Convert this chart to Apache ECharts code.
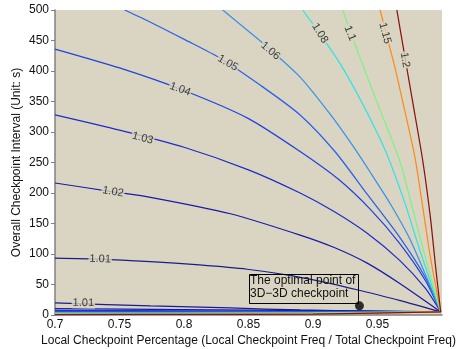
<!DOCTYPE html>
<html>
<head>
<meta charset="utf-8">
<script src="https://cdn.jsdelivr.net/npm/echarts@6/dist/echarts.min.js"></script>
<style>
html,body{margin:0;padding:0;background:#fff;}
#chart{width:457px;height:349px;}
</style>
</head>
<body>
<div id="chart"></div>
<script>
// Contour levels and colours
const levelNames = ['1.01','1.02','1.03','1.04','1.05','1.06','1.08','1.1','1.15','1.2'];
const levelColors = ['#1c1c8c','#1a1aa8','#1e2cc8','#2042e0','#2a60ea','#3a90ea','#2ee4e4','#80f08a','#ff8a18','#8c1010'];

// Upper branches of each contour [x, y]
const upper101 = [[0.700,93.4],[0.735,91.8],[0.774,87.5],[0.812,82.0],[0.849,75.0],[0.882,65.0],[0.913,52.0],[0.935,41.0],[0.967,24.0],[0.999,5]];
const upper102 = [[0.700,216.4],[0.745,202.0],[0.774,193.0],[0.836,166.0],[0.890,131.0],[0.916,111.0],[0.942,85.0],[0.967,52.0],[0.999,5]];
const upper103 = [[0.700,328],[0.750,303],[0.800,275],[0.850,238],[0.890,200],[0.916,170],[0.942,134],[0.967,90],[0.987,44],[0.999,5]];
const upper104 = [[0.700,436],[0.750,405],[0.800,368],[0.850,322],[0.890,268],[0.920,222],[0.945,172],[0.967,118],[0.987,57],[0.999,5]];
const upper105 = [[0.754,500],[0.774,480],[0.801,451],[0.828,421],[0.859,377],[0.890,328],[0.917,268],[0.942,198],[0.967,128],[0.987,62],[0.999,5]];
const upper106 = [[0.830,500],[0.847,470.5],[0.861,446],[0.890,390],[0.913,330],[0.930,280],[0.945,232],[0.960,182],[0.975,125],[0.989,57],[0.999,5]];
const upper108 = [[0.892,500],[0.905,462],[0.921,412],[0.936,356],[0.948,306],[0.958,260],[0.971,185],[0.983,105],[0.999,5]];
const upper110 = [[0.923,500],[0.930,459.0],[0.940,401.6],[0.952,336.1],[0.967,254.1],[0.977,176],[0.987,95],[0.999,5]];
const upper115 = [[0.952,500],[0.957,459.0],[0.964,401.6],[0.971,336.1],[0.979,259.0],[0.985,178],[0.991,95],[0.999,5]];
const upper120 = [[0.965,500],[0.971,426.2],[0.977,352.5],[0.985,254.1],[0.991,160],[0.995,80],[0.999,5]];

// Lower branches (near zero interval)
const lower101 = [[0.700,19.7],[0.774,14.8],[0.836,11.5],[0.890,8.2],[0.944,6.6],[0.999,5]];
const lower102 = [[0.700,10.5],[0.800,8.8],[0.900,7.0],[0.999,5]];
const lower103 = [[0.700,7.5],[0.800,6.8],[0.900,6.0],[0.999,5]];
const lower104 = [[0.700,6.0],[0.800,5.6],[0.900,5.3],[0.999,5]];
const lower105 = [[0.700,4.8],[0.800,4.7],[0.900,4.8],[0.999,5]];
const lower106 = [[0.700,4.0],[0.800,4.0],[0.900,4.3],[0.999,5]];
const lower108 = [[0.700,3.0],[0.800,3.1],[0.900,3.5],[0.999,5]];
const lower110 = [[0.700,2.3],[0.800,2.4],[0.900,2.9],[0.999,5]];
const lower115 = [[0.700,1.5],[0.800,1.6],[0.900,2.0],[0.999,5]];
const lower120 = [[0.700,0.8],[0.800,0.9],[0.900,1.4],[0.999,5]];

// Contour label anchor points [x, y, text, angle]
const contourLabels = [
  [0.735,91.8,'1.01',-2],
  [0.722,19.7,'1.01',-1],
  [0.745,202.0,'1.02',-10],
  [0.768,290.0,'1.03',-15],
  [0.797,370.0,'1.04',-20],
  [0.834,413.0,'1.05',-30],
  [0.867,433.0,'1.06',-40],
  [0.9054,462.0,'1.08',-58],
  [0.9287,462.0,'1.1',-68],
  [0.9558,462.0,'1.15',-75],
  [0.9713,418.0,'1.2',-80]
];

// Optimal point
const optimalPoint = [[0.936,15]];

// Axis ticks
const xTicks = {min:0.7, max:1.0, step:0.05};
const yTicks = {min:0, max:500, step:50};

const uppers = [upper101,upper102,upper103,upper104,upper105,upper106,upper108,upper110,upper115,upper120];
const lowers = [lower101,lower102,lower103,lower104,lower105,lower106,lower108,lower110,lower115,lower120];

const FONT = 'Liberation Sans, Arial, sans-serif';
const BG = '#d9d5c2';

const series = [];
levelNames.forEach((name, i) => {
  [uppers[i], lowers[i]].forEach((d, k) => {
    series.push({
      type: 'line',
      name: name + (k ? ' lower' : ''),
      data: d,
      showSymbol: false,
      symbol: 'none',
      smooth: 0.25,
      lineStyle: {color: levelColors[i], width: 1.25},
      z: 2,
      silent: true
    });
  });
});

series.push({
  type: 'scatter',
  data: contourLabels.map(l => ({
    value: [l[0], l[1]],
    label: {show: true, formatter: l[2], rotate: l[3], position: 'inside'}
  })),
  symbolSize: 0,
  label: {
    show: true,
    color: '#111',
    fontSize: 11,
    fontFamily: FONT,
    backgroundColor: BG,
    padding: [0, 1]
  },
  z: 10,
  silent: true
});

series.push({
  type: 'scatter',
  data: optimalPoint,
  symbol: 'circle',
  symbolSize: 9,
  itemStyle: {color: '#000'},
  z: 11,
  silent: true
});

const chart = echarts.init(document.getElementById('chart'), null, {renderer: 'canvas'});
chart.setOption({
  animation: false,
  backgroundColor: '#ffffff',
  grid: {left: 55, right: 15, top: 10, bottom: 34, show: true, backgroundColor: BG, borderWidth: 0,
         containLabel: false, outerBoundsMode: 'none'},
  xAxis: {
    type: 'value',
    min: xTicks.min, max: xTicks.max, interval: xTicks.step,
    name: 'Local Checkpoint Percentage (Local Checkpoint Freq / Total Checkpoint Freq)',
    nameLocation: 'middle',
    nameGap: 20,
    nameMoveOverlap: false,
    nameTextStyle: {color: '#111', fontSize: 12, fontFamily: FONT},
    axisLine: {show: true, onZero: false, lineStyle: {color: '#808080', width: 1.5}},
    axisTick: {show: true, inside: true, length: 4, lineStyle: {color: '#808080'}},
    axisLabel: {color: '#111', fontSize: 12, fontFamily: FONT, margin: 4, showMaxLabel: false},
    splitLine: {show: false}
  },
  yAxis: {
    type: 'value',
    min: yTicks.min, max: yTicks.max, interval: yTicks.step,
    name: 'Overall Checkpoint Interval (Unit: s)',
    nameLocation: 'middle',
    nameGap: 32,
    nameMoveOverlap: false,
    nameTextStyle: {color: '#111', fontSize: 12, fontFamily: FONT},
    axisLine: {show: true, onZero: false, lineStyle: {color: '#808080', width: 1.5}},
    axisTick: {show: true, inside: false, length: 4, lineStyle: {color: '#808080'}},
    axisLabel: {color: '#111', fontSize: 12, fontFamily: FONT, margin: 6},
    splitLine: {show: false}
  },
  series: series,
  graphic: [
    {type: 'rect', left: 247, top: 272, shape: {width: 109, height: 29},
     style: {fill: 'none', stroke: '#000', lineWidth: 1}, z: 20},
    {type: 'text', left: 250, top: 274,
     style: {text: 'The optimal point of\n3D\u22123D checkpoint', fill: '#111', font: '12px ' + FONT, lineHeight: 13}, z: 20}
  ]
});
</script>
</body>
</html>
